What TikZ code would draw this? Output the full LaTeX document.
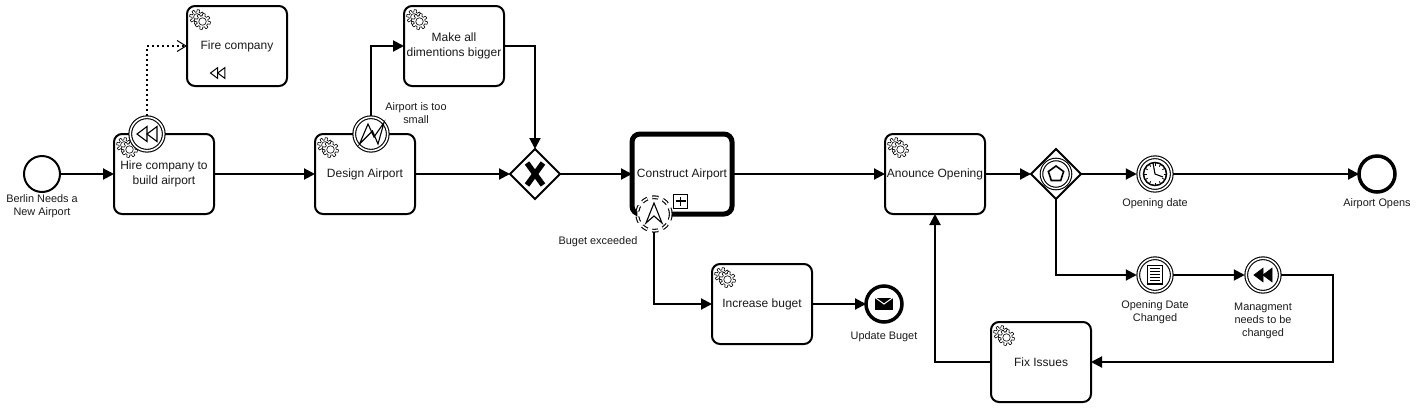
\documentclass[tikz,border=0pt]{standalone}
\usepackage{fontspec}
\setmainfont{Liberation Sans}
\usetikzlibrary{arrows.meta,shapes.geometric}
\definecolor{txt}{HTML}{1A1A1A}
\tikzset{
  x=1pt,y=-1pt,
  task/.style={draw=black,fill=white,rounded corners=8pt,minimum width=100pt,minimum height=80pt,line width=2pt,inner sep=0pt,outer sep=0pt,align=center,text=txt,font=\fontsize{12}{15}\selectfont},
  evt/.style={circle,draw=black,fill=white,line width=2pt,minimum size=36pt,inner sep=0pt,outer sep=0pt},
  endevt/.style={evt,line width=3.5pt},
  gate/.style={diamond,draw=black,fill=white,line width=2pt,minimum width=50pt,minimum height=50pt,inner sep=0pt,outer sep=0pt},
  lab/.style={align=center,inner sep=0pt,yshift=-1.5pt,text=txt,font=\fontsize{10.9}{13}\selectfont},
  flow/.style={draw=black,line width=2pt,-{Triangle[length=11pt,width=11pt]},rounded corners=0pt},
  assoc/.style={draw=black,line width=2pt,dash pattern=on 2pt off 3pt,-{Straight Barb[length=9pt,width=11pt,line width=1pt]}},
  gearshape/.style={draw=black,fill=white,line width=.6pt,line join=round},
  inter/.style={circle,draw=black,fill=white,line width=1.1pt,minimum size=33.5pt,inner sep=0pt,outer sep=1.5pt,double=white,double distance=1.6pt},
  icon/.style={draw=black,line width=1.1pt,line join=miter},
  gears/.pic={
    \foreach \cx/\cy/\ra in {10/11/6.2,15.5/15.5/6.8}{
      \draw[gearshape] plot[domain=0:360,samples=145]
        ({\cx+(\ra+1.2*max(min(3*sin(8*\x),1),-1))*cos(\x)},{\cy+(\ra+1.2*max(min(3*sin(8*\x),1),-1))*sin(\x)}) -- cycle;
      \draw[gearshape] (\cx,\cy) circle[radius=\ra*0.55];
    }
  },
  rewind/.pic={
    \draw[pic actions] (0,0) -- (10,-7.5) -- (10,7.5) -- cycle;
    \draw[pic actions] (10,0) -- (20,-7.5) -- (20,7.5) -- cycle;
  }
}
\begin{document}
\begin{tikzpicture}
\useasboundingbox (0,0) rectangle (1417,408);
% tasks
\node[task] (hire) at (164,174) {Hire company to\\build airport};
\node[task] (fire) at (237,46) {Fire company};
\node[task] (design) at (365,174) {Design Airport};
\node[task] (make) at (454,46) {Make all\\dimentions bigger};
\node[task,line width=5pt] (construct) at (682,174) {Construct Airport};
\node[task] (increase) at (762,304) {Increase buget};
\node[task] (announce) at (935,174) {Anounce Opening};
\node[task] (fix) at (1041,362) {Fix Issues};
% gears
\pic at (114,134) {gears};
\pic at (187,6) {gears};
\pic at (315,134) {gears};
\pic at (404,6) {gears};
\pic at (712,264) {gears};
\pic at (885,134) {gears};
\pic at (991,322) {gears};
% compensation marker on Fire company
\pic[draw=black,line width=1pt,scale=.72] at (210.5,73) {rewind={}};
% events
\node[evt] (start) at (42,174) {};
\node[inter] (bhire) at (147,134) {};
\node[inter] (bdesign) at (371,134) {};
\node[inter,dash pattern=on 6pt off 5pt] (bconstruct) at (654,214) {};
\node[endevt] (endmsg) at (884,304) {};
\node[endevt] (endopen) at (1377,174) {};
\node[inter] (timer) at (1155,174) {};
\node[inter] (cond) at (1155,275) {};
\node[inter] (mgmt) at (1263,275) {};
\node[gate] (xgate) at (535,174) {};
\node[gate] (egate) at (1056,174) {};
% event icons
\pic[icon,fill=white] at (137,134) {rewind={}};
\draw[icon,fill=white] (359.5,144) -- (368,124) -- (374,137) -- (384,122.5) -- (378,144) -- (372.5,131) -- cycle;
\draw[icon,fill=white] (654,203) -- (662,223) -- (654,216) -- (646,223) -- cycle;
\draw[line width=5.5pt,line cap=butt] (527,163) -- (543,185) (543,163) -- (527,185);
\draw[line width=1.1pt,double=white,double distance=1.4pt,fill=white] (1056,174) circle[radius=14.5];
\draw[line width=1.6pt,line join=miter] (1056,166) -- (1063.6,171.5) -- (1060.7,180.5) -- (1051.3,180.5) -- (1048.4,171.5) -- cycle;
% clock
\draw[line width=1.5pt] (1155,174) circle[radius=11.5];
\foreach \a in {0,30,...,330}{\draw[line width=.8pt] ({1155+8.5*cos(\a)},{174+8.5*sin(\a)}) -- ({1155+11*cos(\a)},{174+11*sin(\a)});}
\draw[line width=1.1pt] (1153,163) -- (1155,174) -- (1163,177);
% conditional doc
\draw[line width=1.1pt] (1147.5,265.5) rectangle (1162.5,284);
\foreach \yy in {268.5,271.5,274.5,277.5,280.5}{\draw[line width=.9pt] (1150,\yy) -- (1160,\yy);}
% filled rewind
\pic[draw=black,fill=black,line width=.8pt,scale=.9] at (1254,275) {rewind={}};
% envelope
\fill[black] (875,298) rectangle (893,310);
\draw[white,line width=1pt] (875,297.5) -- (884,304) -- (893,297.5);
% subprocess marker
\draw[line width=1pt,fill=white] (673.5,194.5) rectangle (687.5,208);
\draw[line width=1.6pt] (675.5,201.2) -- (685.5,201.2) (680.5,196.5) -- (680.5,206);
% labels
\node[lab] (l1) at (42,204.5) {Berlin Needs a\\New Airport};
\node[lab] (l2) at (416,111.5) {Airport is too\\small};
\node[lab] (l3) at (598,240) {Buget exceeded};
\node[lab] (l4) at (884,335) {Update Buget};
\node[lab] (l5) at (1155,202) {Opening date};
\node[lab] (l6) at (1377,202) {Airport Opens};
\node[lab] (l7) at (1155,311) {Opening Date\\Changed};
\node[lab] (l8) at (1263,319) {Managment\\needs to be\\changed};
% connectors
\draw[flow] (start) -- (hire);
\draw[flow] (hire) -- (design);
\draw[flow] (design) -- (xgate);
\draw[flow] (xgate) -- (construct);
\draw[flow] (construct) -- (announce);
\draw[flow] (announce) -- (egate);
\draw[flow] (egate) -- (timer);
\draw[flow] (timer) -- (endopen);
\draw[flow] (cond) -- (mgmt);
\draw[flow] (increase) -- (endmsg);
\draw[assoc] (bhire.north) |- (fire.west);
\draw[flow] (bdesign.north) |- (make.west);
\draw[flow] (make.east) -| (xgate.north);
\draw[flow] (bconstruct.south) |- (increase.west);
\draw[flow] (egate.south) |- (cond.west);
\coordinate (c1) at (1333,275);
\draw[flow] (mgmt.east) -- (c1) |- (fix.east);
\draw[flow] (fix.west) -| (announce.south);
\end{tikzpicture}
\end{document}
